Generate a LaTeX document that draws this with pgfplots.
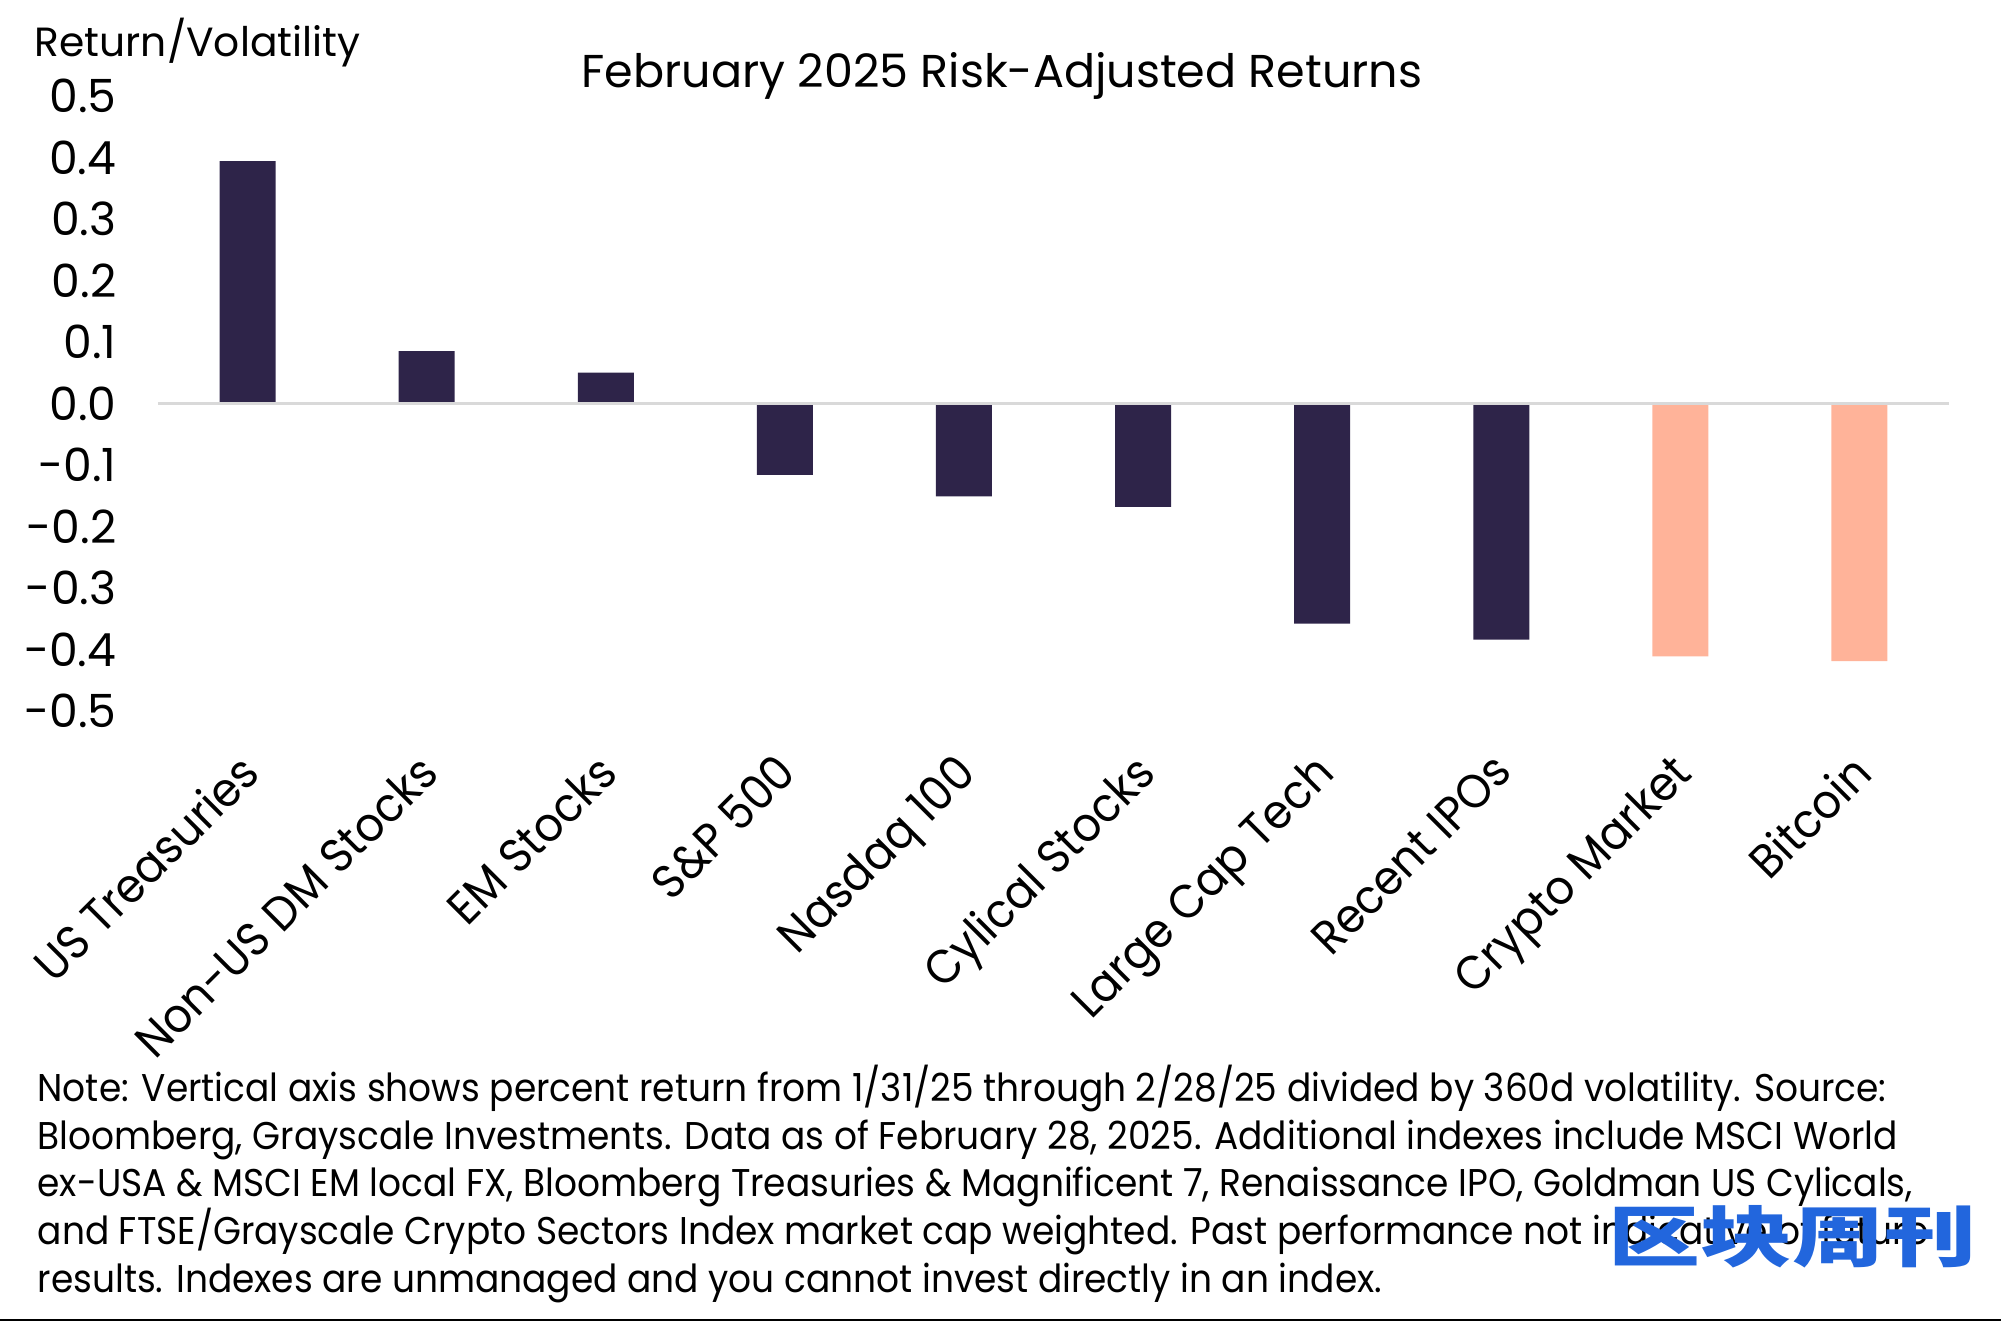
\documentclass[border=0pt]{standalone}
\usepackage{fontspec}
\setmainfont{Poppins}
\newfontfamily\notefont[FakeStretch=0.93]{Poppins}
\newfontfamily\cjk{Noto Sans CJK SC}
\usepackage{pgfplots}
\usepackage{pgfplotstable}
\pgfplotsset{compat=1.18}

\definecolor{barnavy}{HTML}{2E2449}
\definecolor{barsalmon}{HTML}{FFB399}
\definecolor{zeroline}{HTML}{D9D9D9}
\definecolor{wmblue}{HTML}{2266DD}

% risk-adjusted return (return / 360d vol), Feb 2025
\pgfplotstableread{
x val
0 0.394
1 0.085
2 0.050
3 -0.116
4 -0.151
5 -0.168
6 -0.358
7 -0.384
}\tradassets
\pgfplotstableread{
x val
8 -0.411
9 -0.419
}\cryptoassets

\begin{document}
\begin{tikzpicture}
\path[use as bounding box] (0,0) rectangle (20.01,13.21);
\begin{axis}[
    at={(1.58cm,6.10cm)}, anchor=south west,
    scale only axis, width=17.91cm, height=6.15cm,
    xmin=-0.5, xmax=9.5, ymin=-0.5, ymax=0.5,
    axis line style={draw=none},
    major tick length=0pt,
    ytick={-0.5,-0.4,-0.3,-0.2,-0.1,0,0.1,0.2,0.3,0.4,0.5},
    yticklabel style={font=\fontsize{13}{15}\selectfont, anchor=east, inner sep=0pt, xshift=-0.41cm,
        /pgf/number format/.cd, fixed, fixed zerofill, precision=1, assume math mode=true},
    xtick={0,...,9},
    xticklabels={US Treasuries, Non-US DM Stocks, EM Stocks, S\&P 500, Nasdaq 100,
        Cylical Stocks, Large Cap Tech, Recent IPOs, Crypto Market, Bitcoin},
    xticklabel style={font=\notefont\fontsize{13.5}{15}\selectfont, anchor=north east, inner sep=0pt,
        xshift=-0.11cm, yshift=-0.39cm, rotate=45},
    ybar, bar width=0.56cm, bar shift=0pt,
    clip=false,
]
\addplot[fill=barnavy, draw=none] table[x=x, y=val] {\tradassets};
\addplot[fill=barsalmon, draw=none] table[x=x, y=val] {\cryptoassets};
\draw[zeroline, line width=0.85pt] (axis cs:-0.5,0) -- (axis cs:9.5,0);
\end{axis}

\node[anchor=base, inner sep=0pt, font=\fontsize{13.1}{15}\selectfont] at (10.02,12.33)
    {February 2025 Risk-Adjusted Returns};
\node[anchor=base west, inner sep=0pt, font=\fontsize{11.6}{13}\selectfont] at (0.34,12.64)
    {Return/Volatility};

\begin{scope}[every node/.style={anchor=base west, inner sep=0pt, font=\notefont\fontsize{11}{13}\selectfont}]
\node at (0.37,2.194) {Note: Vertical axis shows percent return from 1/31/25 through 2/28/25 divided by 360d volatility. Source:};
\node at (0.37,1.718) {Bloomberg, Grayscale Investments. Data as of February 28, 2025. Additional indexes include MSCI World};
\node at (0.37,1.242) {ex-USA \& MSCI EM local FX, Bloomberg Treasuries \& Magnificent 7, Renaissance IPO, Goldman US Cylicals,};
\node at (0.37,0.766) {and FTSE/Grayscale Crypto Sectors Index market cap weighted. Past performance not indicative of future};
\node at (0.37,0.290) {results. Indexes are unmanaged and you cannot invest directly in an index.};
\end{scope}

\node[anchor=west, inner sep=0pt, text=wmblue, font=\cjk\bfseries\fontsize{27}{30}\selectfont] at (16.08,0.845)
    {\scalebox{0.97}[0.70]{区块周刊}};

\draw[black, line width=0.6pt] (0,0.01) -- (20.01,0.01);
\end{tikzpicture}
\end{document}
